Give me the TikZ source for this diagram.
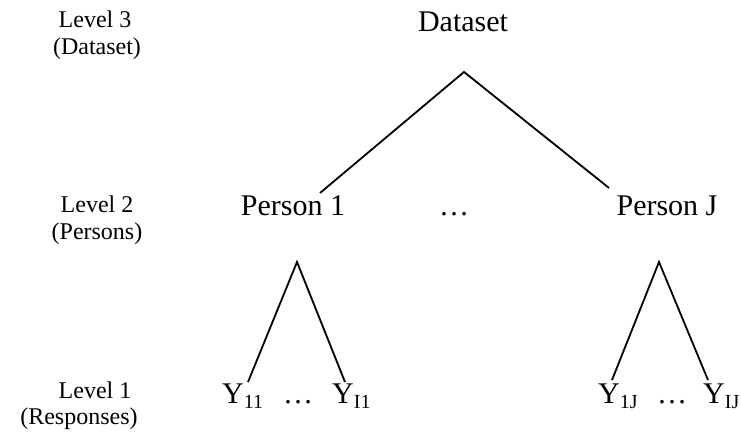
\documentclass[tikz,border=0pt]{standalone}
\usepackage{fontspec}
\setmainfont{Liberation Serif}
\newcommand{\mysub}[1]{\raisebox{-5pt}{\fontsize{20}{20}\selectfont #1}}
\begin{document}
\begin{tikzpicture}[x=1pt,y=-1pt,
  lbl/.style={inner sep=0pt, anchor=base, font=\fontsize{24}{26}\selectfont},
  big/.style={inner sep=0pt, anchor=base, font=\fontsize{30}{32}\selectfont},
  yv/.style={inner sep=0pt, anchor=base west, font=\fontsize{30}{32}\selectfont},
  edge/.style={line width=1.8pt}]
\useasboundingbox (0,0) rectangle (741,435);
% level labels
\node[lbl] (l3) at (95,28) {Level 3};
\node[lbl] (l3b) at (97,55) {(Dataset)};
\node[lbl] (l2) at (97,213) {Level 2};
\node[lbl] (l2b) at (97,240) {(Persons)};
\node[lbl] (l1) at (95,398) {Level 1};
\node[lbl] (l1b) at (79,424) {(Responses)};
% tree
\node[big] (ds) at (463,32) {Dataset};
\node[big] (p1) at (293,216) {Person 1};
\node[big] (pdots) at (454,216) {\ldots};
\node[big] (pj) at (667,216) {Person J};
\node[yv] (y11) at (222,403) {Y\mysub{11}};
\node[big] (d1) at (298,403) {\ldots};
\node[yv] (yi1) at (332,403) {Y\mysub{I1}};
\node[yv] (y1j) at (598,403) {Y\mysub{1J}};
\node[big] (d2) at (672,403) {\ldots};
\node[yv] (yij) at (703,403) {Y\mysub{IJ}};
% connector points
\coordinate (a0) at (464,72);
\coordinate (a0l) at (320,193);
\coordinate (a0r) at (609,188);
\coordinate (a1) at (297,262);
\coordinate (a1l) at (248,382);
\coordinate (a1r) at (345,382);
\coordinate (a2) at (659,262);
\coordinate (a2l) at (612,380);
\coordinate (a2r) at (708,380);
\draw[edge] (a0l) -- (a0) -- (a0r);
\draw[edge] (a1l) -- (a1) -- (a1r);
\draw[edge] (a2l) -- (a2) -- (a2r);
\end{tikzpicture}
\end{document}
